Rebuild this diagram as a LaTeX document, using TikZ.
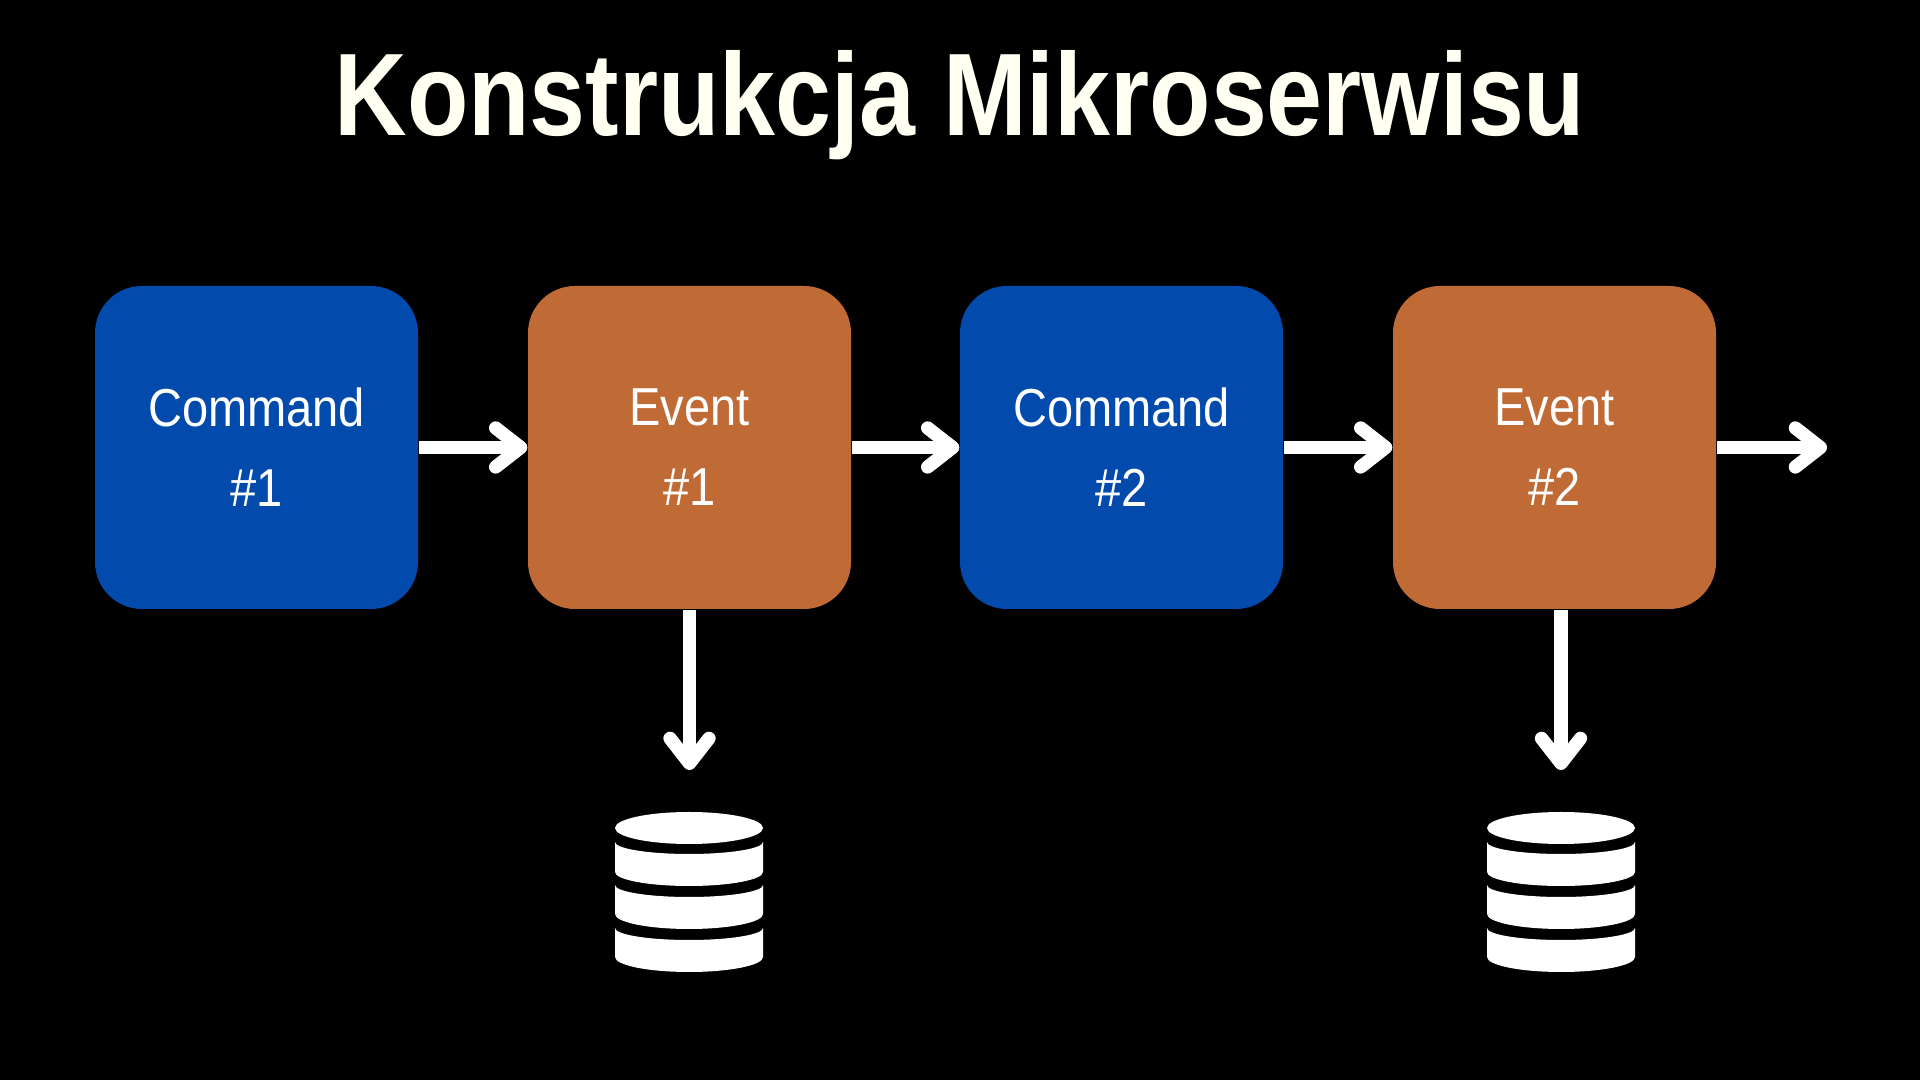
\documentclass[tikz,border=0pt]{standalone}
\usepackage{fontspec}
\setmainfont[FakeStretch=0.88]{Liberation Sans}
\newfontfamily\titlefont[FakeStretch=0.856]{Liberation Sans}
\usetikzlibrary{arrows.meta}
\definecolor{cmdblue}{HTML}{034AAD}
\definecolor{evtorange}{HTML}{C06A35}
\definecolor{ivory}{HTML}{FFFFF2}
\tikzset{
  stepbox/.style={rectangle, fill=#1, text=white, rounded corners=0.47cm, minimum width=3.23cm,
                  minimum height=3.23cm, inner sep=0pt, align=center,
                  font=\fontsize{15.2pt}{22.8pt}\selectfont},
  flow/.style={-{Straight Barb[round, length=0.25cm, width=0.39cm]}, line width=0.133cm, draw=white},
  dbstack/.pic={
    \fill[white] (0,0) ellipse [x radius=0.74, y radius=0.16];
    \fill[white] (-0.74,-0.14) arc[start angle=180, end angle=360, x radius=0.74, y radius=0.12]
      -- (0.74,-0.44) arc[start angle=0, end angle=-180, x radius=0.74, y radius=0.14] -- cycle;
    \fill[white] (-0.74,-0.57) arc[start angle=180, end angle=360, x radius=0.74, y radius=0.12]
      -- (0.74,-0.86) arc[start angle=0, end angle=-180, x radius=0.74, y radius=0.15] -- cycle;
    \fill[white] (-0.74,-1.00) arc[start angle=180, end angle=360, x radius=0.74, y radius=0.12]
      -- (0.74,-1.29) arc[start angle=0, end angle=-180, x radius=0.74, y radius=0.15] -- cycle;
  },
}
\begin{document}
\begin{tikzpicture}
  \fill[black] (0,0) rectangle (19.2,10.8);
  \useasboundingbox (0,0) rectangle (19.2,10.8);
  \node[text=ivory, font=\fontsize{33.4pt}{40pt}\selectfont\titlefont\bfseries, anchor=base] (title) at (9.6,9.44) {Konstrukcja Mikroserwisu};
  \node[stepbox=cmdblue] (command1) at (2.565,6.325) {Command\\\#1};
  \node[stepbox=evtorange] (event1) at (6.895,6.325) {Event\\\#1};
  \node[stepbox=cmdblue] (command2) at (11.215,6.325) {Command\\\#2};
  \node[stepbox=evtorange] (event2) at (15.545,6.325) {Event\\\#2};
  \coordinate (next) at (18.27,6.325);
  \coordinate (store1) at (6.895,3.1);
  \coordinate (store2) at (15.61,3.1);
  \draw[flow] (command1.east) -- (event1.west);
  \draw[flow] (event1.east) -- (command2.west);
  \draw[flow] (command2.east) -- (event2.west);
  \draw[flow] (event2.east) -- (next);
  \draw[flow] (event1.south) -- (store1);
  \draw[flow] (event2.south -| store2) -- (store2);
  \pic at (6.89,2.52) {dbstack};
  \pic at (15.61,2.52) {dbstack};
\end{tikzpicture}
\end{document}
